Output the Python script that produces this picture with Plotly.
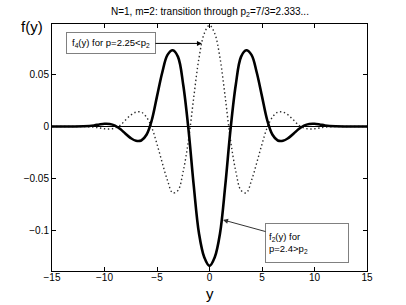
import plotly.graph_objects as go

# Sample positions along y (horizontal axis)
y_grid = [-15, -13, -12, -11, -10.5, -10, -9.5, -9, -8.5, -8, -7.5, -7, -6.5, -6,
          -5.5, -5, -4.5, -4, -3.5, -3, -2.5, -2, -1.5, -1, -0.5, 0,
          0.5, 1, 1.5, 2, 2.5, 3, 3.5, 4, 4.5, 5, 5.5, 6, 6.5, 7, 7.5, 8,
          8.5, 9, 9.5, 10, 10.5, 11, 12, 13, 15]

# f_2(y) for p=2.4 (solid)
f2_vals = [0, 0, 0.0002, 0.001, 0.0019, 0.0026, 0.0024, 0.0008, -0.0025, -0.007,
           -0.0112, -0.0138, -0.0135, -0.008, 0.006, 0.029, 0.052, 0.069, 0.0734,
           0.067, 0.040, -0.003, -0.057, -0.103, -0.126, -0.1343,
           -0.126, -0.103, -0.057, -0.003, 0.040, 0.067, 0.0734, 0.069, 0.052,
           0.029, 0.006, -0.008, -0.0135, -0.0138, -0.0112, -0.007, -0.0025,
           0.0008, 0.0024, 0.0026, 0.0019, 0.001, 0.0002, 0, 0]

# f_4(y) for p=2.25 (dotted)
f4_vals = [0, 0, -0.0001, -0.0007, -0.0014, -0.0022, -0.0024, -0.0015, 0.0012, 0.0062,
           0.011, 0.0138, 0.0138, 0.009, -0.001, -0.017, -0.035, -0.052, -0.064,
           -0.0615, -0.043, -0.013, 0.028, 0.066, 0.0895, 0.0975,
           0.0895, 0.066, 0.028, -0.013, -0.043, -0.0615, -0.064, -0.052, -0.035,
           -0.017, -0.001, 0.009, 0.0138, 0.0138, 0.011, 0.0062, 0.0012,
           -0.0015, -0.0024, -0.0022, -0.0014, -0.0007, -0.0001, 0, 0]

x_ticks = [-15, -10, -5, 0, 5, 10, 15]
x_ticktext = ["\u221215", "\u221210", "\u22125", "0", "5", "10", "15"]
y_ticks = [-0.1, -0.05, 0, 0.05]
y_ticktext = ["\u22120.1", "\u22120.05", "0", "0.05"]

FONT = "Liberation Sans, Arial, Helvetica, sans-serif"

fig = go.Figure()
fig.add_trace(go.Scatter(x=y_grid, y=f4_vals, mode="lines",
                         line=dict(color="#2a2a2a", width=1.4, dash="1.4px,2.6px", shape="spline"),
                         showlegend=False, hoverinfo="skip"))
fig.add_trace(go.Scatter(x=y_grid, y=f2_vals, mode="lines",
                         line=dict(color="black", width=2.6, shape="spline"),
                         showlegend=False, hoverinfo="skip"))

fig.update_layout(
    width=406, height=305,
    margin=dict(l=52, r=39, t=24, b=34),
    paper_bgcolor="white", plot_bgcolor="white",
    font=dict(family=FONT, size=10, color="black"),
    xaxis=dict(range=[-15, 15], tickvals=x_ticks, ticktext=x_ticktext,
               showgrid=False, zeroline=False, showline=True, linecolor="black",
               linewidth=1, mirror="allticks", ticks="inside", ticklen=4,
               tickcolor="black", ticklabelstandoff=-3,
               tickfont=dict(size=10, family=FONT)),
    yaxis=dict(range=[-0.1392, 0.0987], tickvals=y_ticks, ticktext=y_ticktext,
               showgrid=False, zeroline=True, zerolinecolor="black", zerolinewidth=1,
               showline=True, linecolor="black", linewidth=1, mirror="allticks",
               ticks="inside", ticklen=4, tickcolor="black",
               tickfont=dict(size=10, family=FONT)),
)

annotations = [
    dict(text="N=1, m=2: transition through p<sub>2</sub>=7/3=2.333...",
         xref="paper", yref="paper", x=0.5, y=1.049, showarrow=False,
         xanchor="center", yanchor="middle", font=dict(size=10, family=FONT)),
    dict(text="f(y)", xref="paper", yref="paper", x=-0.062, y=0.988, showarrow=False,
         xanchor="center", yanchor="middle", font=dict(size=15, family=FONT)),
    dict(text="y", xref="paper", yref="paper", x=0.5, y=-0.093, showarrow=False,
         xanchor="center", yanchor="middle", font=dict(size=15, family=FONT)),
    dict(text="f<sub>4</sub>(y) for p=2.25&lt;p<sub>2</sub>", x=-0.72, y=0.080,
         xref="x", yref="y", ax=-91, ay=0, showarrow=True, arrowhead=2,
         arrowsize=1, arrowwidth=1, arrowcolor="black",
         width=82, height=14,
         bordercolor="#808080", borderwidth=1, borderpad=3, bgcolor="white",
         font=dict(size=9.5, family=FONT)),
    dict(text="f<sub>2</sub>(y) for<br>p=2.4&gt;p<sub>2</sub>", x=1.29, y=-0.090,
         xref="x", yref="y", ax=84, ay=23, showarrow=True, arrowhead=2,
         arrowsize=1, arrowwidth=1, arrowcolor="#333333", align="left",
         width=76, height=32,
         bordercolor="#808080", borderwidth=1, borderpad=3, bgcolor="white",
         font=dict(size=9.5, family=FONT)),
]
fig.update_layout(annotations=annotations)

# remove the browser's default 8px body margin so the figure sits at the page origin
fig.write_html("out.html", config={"displayModeBar": False},
               post_script="document.body.style.margin='0';")
